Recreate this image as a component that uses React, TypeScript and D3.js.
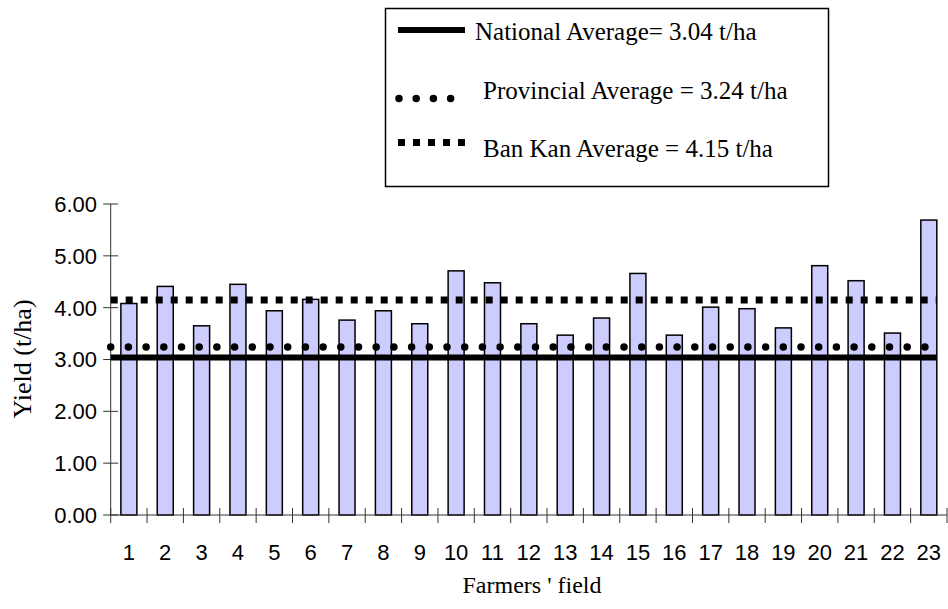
import React from 'react';
import * as d3 from 'd3';

// Farmer field identifiers and measured grain yields (t/ha)
const farmers = ['1','2','3','4','5','6','7','8','9','10','11','12','13','14','15','16','17','18','19','20','21','22','23'];
const yields = [4.08,4.41,3.65,4.45,3.94,4.16,3.76,3.94,3.69,4.71,4.48,3.69,3.47,3.80,4.66,3.47,4.01,3.98,3.61,4.81,4.52,3.51,5.69];

// Reference averages drawn as horizontal lines
const averageLabels = ['National Average= 3.04 t/ha', 'Provincial Average = 3.24 t/ha', 'Ban Kan Average = 4.15 t/ha'];
const averageValues = [3.04, 3.24, 4.15];
const averageKinds = ['solid', 'dots', 'squares'];

const yTicks = [0, 1, 2, 3, 4, 5, 6];

const W = 948;
const H = 609;
const plot = { left: 110.7, right: 947, top: 204, bottom: 515 };

const sans = '"Liberation Sans", Arial, sans-serif';
const serif = '"Liberation Serif", "Times New Roman", serif';

function lineStyle(kind: string) {
  if (kind === 'solid') return { strokeWidth: 6 };
  if (kind === 'dots') return { strokeWidth: 7.5, strokeDasharray: '0 17.7', strokeLinecap: 'round' as const };
  return { strokeWidth: 7, strokeDasharray: '7 8' };
}

export default function App() {
  const x = d3.scaleBand<string>()
    .domain(farmers)
    .range([plot.left, plot.right])
    .paddingInner(0.56)
    .paddingOuter(0.28);
  const y = d3.scaleLinear().domain([0, 6]).range([plot.bottom, plot.top]);
  const step = x.step();
  const boundaries = d3.range(farmers.length + 1).map((i) => plot.left + i * step);
  const lastBar = farmers[farmers.length - 1];
  const lineEnd = (x(lastBar) ?? 0) + x.bandwidth();

  return (
    <svg width={W} height={H} style={{ position: 'absolute', left: 0, top: 0, background: '#fff' }}>
      {/* bars */}
      {farmers.map((f, i) => (
        <rect
          key={f}
          x={x(f)}
          y={y(yields[i])}
          width={x.bandwidth()}
          height={y(0) - y(yields[i])}
          fill="#ccccff"
          stroke="#000"
          strokeWidth={1.5}
        />
      ))}

      {/* y axis */}
      <line x1={plot.left} x2={plot.left} y1={plot.top} y2={plot.bottom} stroke="#333" strokeWidth={1} />
      {yTicks.map((t) => (
        <g key={t}>
          <line x1={plot.left - 7.5} x2={plot.left + 7.5} y1={y(t)} y2={y(t)} stroke="#333" strokeWidth={1} />
          <text
            x={97}
            y={y(t)}
            dy="0.36em"
            textAnchor="end"
            fontFamily={sans}
            fontSize={22}
            fill="#000"
          >
            {t.toFixed(2)}
          </text>
        </g>
      ))}

      {/* x axis */}
      <line x1={plot.left} x2={plot.right} y1={plot.bottom} y2={plot.bottom} stroke="#333" strokeWidth={1} />
      {boundaries.map((bx, i) => (
        <line key={i} x1={bx} x2={bx} y1={plot.bottom - 7} y2={plot.bottom + 8} stroke="#333" strokeWidth={1} />
      ))}
      {farmers.map((f) => (
        <text
          key={f}
          x={(x(f) ?? 0) + x.bandwidth() / 2}
          y={560}
          textAnchor="middle"
          fontFamily={sans}
          fontSize={22}
          fill="#000"
        >
          {f}
        </text>
      ))}

      {/* average lines */}
      {averageValues.map((v, i) => (
        <line
          key={i}
          x1={plot.left}
          x2={lineEnd}
          y1={y(v)}
          y2={y(v)}
          stroke="#000"
          {...lineStyle(averageKinds[i])}
        />
      ))}

      {/* axis titles */}
      <text x={532} y={593} textAnchor="middle" fontFamily={serif} fontSize={24} fill="#000">
        Farmers ' field
      </text>
      <text
        transform={`translate(31,359) rotate(-90)`}
        textAnchor="middle"
        fontFamily={serif}
        fontSize={26}
        fill="#000"
      >
        Yield (t/ha)
      </text>

      {/* legend */}
      <rect x={385.5} y={8.5} width={443} height={178} fill="#fff" stroke="#000" strokeWidth={1.5} />
      {averageLabels.map((label, i) => {
        const rowY = [30, 98.5, 142.5][i];
        const textY = [39.5, 99, 156.5][i];
        const textX = i === 0 ? 475 : 483;
        const kind = averageKinds[i];
        return (
          <g key={label}>
            {kind === 'solid' && (
              <line x1={398} x2={465} y1={rowY} y2={rowY} stroke="#000" strokeWidth={6} />
            )}
            {kind === 'dots' && (
              <line x1={399} x2={452} y1={rowY} y2={rowY} stroke="#000" strokeWidth={7.5}
                strokeDasharray="0 17.2" strokeLinecap="round" />
            )}
            {kind === 'squares' && (
              <line x1={398} x2={466} y1={rowY} y2={rowY} stroke="#000" strokeWidth={7}
                strokeDasharray="7 8" />
            )}
            <text x={textX} y={textY} fontFamily={serif} fontSize={25} fill="#000">
              {label}
            </text>
          </g>
        );
      })}
    </svg>
  );
}
